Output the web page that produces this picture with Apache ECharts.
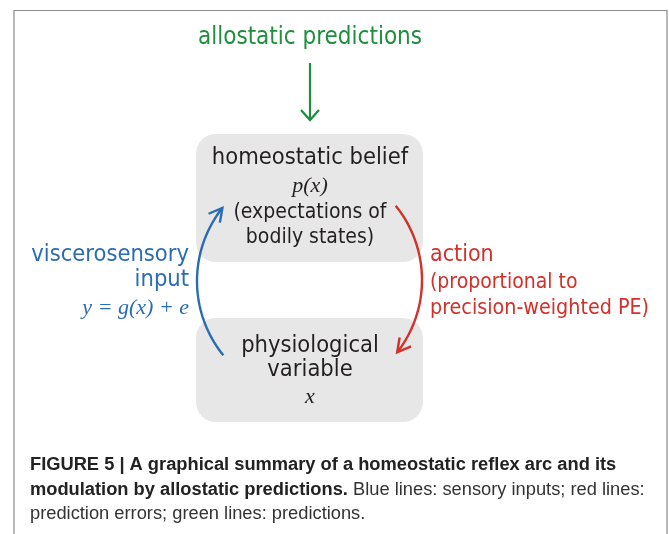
<!DOCTYPE html>
<html>
<head>
<meta charset="utf-8">
<script src="https://cdn.jsdelivr.net/npm/echarts@6/dist/echarts.min.js"></script>
<style>
  html, body { margin: 0; padding: 0; background: #fff; }
  #chart { width: 669px; height: 534px; }
</style>
</head>
<body>
<div id="chart"></div>
<script>
// ===================================================
//  DATOS DEL DIAGRAMA
// ===================================================
const topLabel = 'allostatic predictions';
const beliefLines = ['homeostatic belief', 'p(x)', '(expectations of', 'bodily states)'];
const variableLines = ['physiological', 'variable', 'x'];
const sensoryLines = ['viscerosensory', 'input', 'y = g(x) + e'];
const actionLines = ['action', '(proportional to', 'precision-weighted PE)'];
const captionBold1 = 'FIGURE 5 | A graphical summary of a homeostatic reflex arc and its';
const captionBold2 = 'modulation by allostatic predictions.';
const captionRest2 = ' Blue lines: sensory inputs; red lines:';
const captionLine3 = 'prediction errors; green lines: predictions.';

const GREEN = '#1f8f3f';
const BLUE = '#2a6cb3';
const RED = '#d0312b';
const BOX = '#e6e7e6';
const INK = '#231f20';
const FONT = '"DejaVu Sans Condensed", "DejaVu Sans", sans-serif';
const MATH = '"Liberation Serif", "DejaVu Serif", serif';

// arco con flecha al final
function arcWithArrow(cx, cy, r, a0, a1, color) {
    const pts = [];
    const n = 40;
    for (let i = 0; i <= n; i++) {
        const a = a0 + (a1 - a0) * i / n;
        pts.push([cx + r * Math.cos(a), cy + r * Math.sin(a)]);
    }
    const dir = a1 > a0 ? 1 : -1;
    const tip = pts[n];
    const tx = -Math.sin(a1) * dir, ty = Math.cos(a1) * dir;
    const len = 15, spread = 0.5;
    const back = Math.atan2(-ty, -tx);
    const w1 = [tip[0] + len * Math.cos(back + spread), tip[1] + len * Math.sin(back + spread)];
    const w2 = [tip[0] + len * Math.cos(back - spread), tip[1] + len * Math.sin(back - spread)];
    return [
        { type: 'polyline', shape: { points: pts }, style: { stroke: color, lineWidth: 2.4, fill: null } },
        { type: 'polyline', shape: { points: [w1, tip, w2] }, style: { stroke: color, lineWidth: 2.4, fill: null } }
    ];
}

function text(x, y, str, opts) {
    return {
        type: 'text', x: x, y: y,
        style: Object.assign({
            text: str, fill: INK, font: '23px ' + FONT,
            textAlign: 'center', textVerticalAlign: 'middle'
        }, opts || {})
    };
}

(function () {
    const chart = echarts.init(document.getElementById('chart'));
    const els = [];

    // marco
    els.push({ type: 'polyline', shape: { points: [[14, 534], [14, 10.5], [667, 10.5], [667, 534]] },
        style: { stroke: '#8a8a8a', lineWidth: 1.2, fill: null } });

    // cajas
    els.push({ type: 'rect', shape: { x: 196, y: 134, width: 227, height: 128, r: 20 }, style: { fill: BOX } });
    els.push({ type: 'rect', shape: { x: 196, y: 318, width: 227, height: 104, r: 20 }, style: { fill: BOX } });

    // predicciones alostáticas
    els.push(text(310, 38, topLabel, { fill: GREEN, font: '24px ' + FONT }));
    els.push({ type: 'line', shape: { x1: 310, y1: 63, x2: 310, y2: 120 }, style: { stroke: GREEN, lineWidth: 2.2 } });
    els.push({ type: 'polyline', shape: { points: [[301, 110], [310, 120], [319, 110]] }, style: { stroke: GREEN, lineWidth: 2.2, fill: null } });

    // creencia
    els.push(text(310, 158, beliefLines[0], { font: '23.5px ' + FONT }));
    els.push(text(310, 186, beliefLines[1], { font: 'italic 22px ' + MATH }));
    els.push(text(310, 213, beliefLines[2], { font: '21px ' + FONT }));
    els.push(text(310, 238, beliefLines[3], { font: '21px ' + FONT }));

    // variable fisiológica
    els.push(text(310, 346, variableLines[0], { font: '23.5px ' + FONT }));
    els.push(text(310, 370, variableLines[1], { font: '23.5px ' + FONT }));
    els.push(text(310, 397, variableLines[2], { font: 'italic 22px ' + MATH }));

    // entrada sensorial
    els.push(text(189, 255, sensoryLines[0], { fill: BLUE, textAlign: 'right', font: '23.5px ' + FONT }));
    els.push(text(189, 280, sensoryLines[1], { fill: BLUE, textAlign: 'right', font: '23.5px ' + FONT }));
    els.push(text(189, 308, sensoryLines[2], { fill: BLUE, textAlign: 'right', font: 'italic 22px ' + MATH }));

    // acción
    els.push(text(430, 255, actionLines[0], { fill: RED, textAlign: 'left', font: '23px ' + FONT }));
    els.push(text(430, 283, actionLines[1], { fill: RED, textAlign: 'left', font: '21px ' + FONT }));
    els.push(text(430, 308, actionLines[2], { fill: RED, textAlign: 'left', font: '21.3px ' + FONT }));

    // arcos
    arcWithArrow(315, 281, 118, 2.46, 3.81, BLUE).forEach(e => els.push(e));
    arcWithArrow(304, 280, 118, -0.68, 0.66, RED).forEach(e => els.push(e));

    // pie de figura
    const capFont = '18.3px "Liberation Sans", Arial, sans-serif';
    els.push(text(30, 465, captionBold1, { textAlign: 'left', font: 'bold ' + capFont, fill: '#222' }));
    els.push({
        type: 'text', x: 30, y: 490,
        style: {
            text: '{b|' + captionBold2 + '}{n|' + captionRest2 + '}',
            textVerticalAlign: 'middle',
            rich: {
                b: { font: 'bold ' + capFont, fill: '#222' },
                n: { font: capFont, fill: '#333' }
            }
        }
    });
    els.push(text(30, 514, captionLine3, { textAlign: 'left', font: capFont, fill: '#333' }));

    chart.setOption({ animation: false, graphic: { elements: els } });
})();
</script>
</body>
</html>
